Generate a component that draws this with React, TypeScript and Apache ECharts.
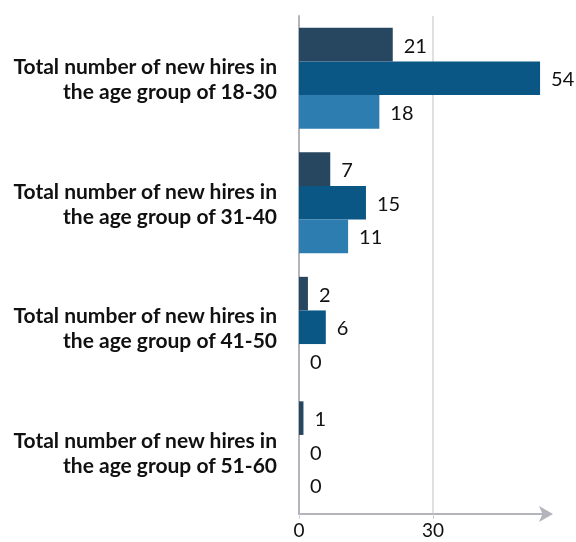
import React, { useEffect, useRef } from "react";
import * as echarts from "echarts";

const categories = [
  "Total number of new hires in\nthe age group of 18-30",
  "Total number of new hires in\nthe age group of 31-40",
  "Total number of new hires in\nthe age group of 41-50",
  "Total number of new hires in\nthe age group of 51-60",
];
const seriesA = [21, 7, 2, 1];
const seriesB = [54, 15, 6, 0];
const seriesC = [18, 11, 0, 0];
const colors = ["#27465f", "#0a5785", "#2d7db0"];

export default function App() {
  const ref = useRef<HTMLDivElement>(null);
  useEffect(() => {
    if (!ref.current) return;
    const chart = echarts.init(ref.current, null, { renderer: "svg" });
    const mk = (name: string, data: number[], color: string) => ({
      name,
      type: "bar",
      data,
      barGap: "0%",
      barCategoryGap: "19%",
      itemStyle: { color },
      label: {
        show: true,
        position: "right",
        distance: 11,
        color: "#111",
        fontFamily: "Lato",
        fontSize: 20,
      },
    });
    chart.setOption({
      animation: false,
      grid: { left: 299, right: 27, top: 16, bottom: 28, containLabel: false },
      xAxis: {
        type: "value",
        min: 0,
        max: 56,
        interval: 30,
        axisLine: {
          show: true,
          symbol: ["none", "arrow"],
          symbolSize: [12, 14],
          symbolOffset: [0, 4],
          lineStyle: { color: "#b4b4bc", width: 2 },
        },
        axisTick: { show: true, length: 5, lineStyle: { color: "#d0d0d0" } },
        splitLine: {
          show: true,
          showMaxLine: false,
          lineStyle: { color: "#d6d6d6", width: 1.5 },
        },
        axisLabel: {
          color: "#111",
          fontFamily: "Lato",
          fontSize: 19,
          margin: 6,
          showMaxLabel: false,
        },
      },
      yAxis: {
        type: "category",
        data: categories,
        inverse: true,
        axisLine: { show: true, lineStyle: { color: "#b4b4bc", width: 2 } },
        axisTick: { show: false },
        axisLabel: {
          color: "#111",
          fontFamily: "Lato",
          fontWeight: "bold",
          fontSize: 21,
          lineHeight: 25,
          margin: 22,
          align: "right",
        },
      },
      series: [
        mk("A", seriesA, colors[0]),
        mk("B", seriesB, colors[1]),
        mk("C", seriesC, colors[2]),
      ],
    });
    return () => chart.dispose();
  }, []);
  return (
    <div
      ref={ref}
      style={{ position: "fixed", left: 0, top: 0, width: 576, height: 542 }}
    />
  );
}
